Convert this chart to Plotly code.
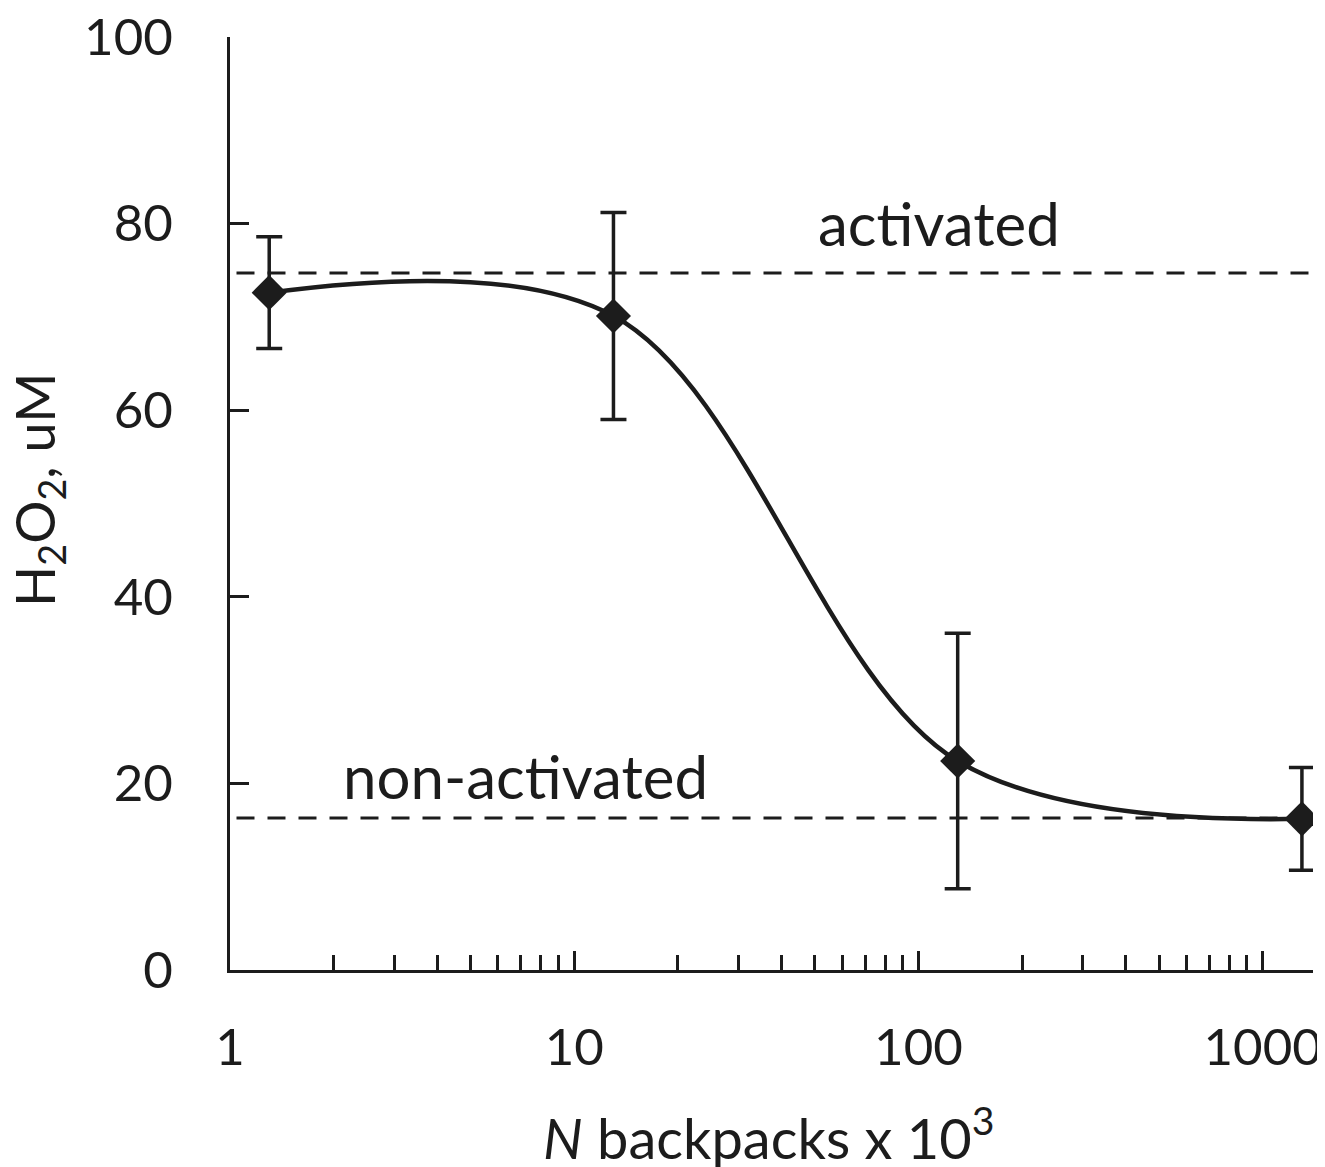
import math
import plotly.graph_objects as go

# data
n_backpacks = [1.3, 13, 130, 1300]
h2o2 = [72.6, 70.1, 22.4, 16.2]
h2o2_err = [6.0, 11.1, 13.7, 5.5]
activated_level = [74.7]
nonactivated_level = [16.3]
x_ticks = [1, 10, 100, 1000]
x_tick_labels = ["1", "10", "100", "1000"]
y_ticks = [0, 20, 40, 60, 80, 100]
minor_x_ticks = [m * 10 ** d for d in range(0, 4) for m in range(2, 10) if m * 10 ** d < 1400]

INK = "#1c1c1c"
FONT = "Lato"
FS = 51

OFF = 8  # page body margin offset
W, H = 1325, 1167
L, T = 230 - OFF, 37 - OFF
R = W - (1313 - OFF)
B = H - (970 - OFF)
pw, ph = W - L - R, H - T - B


def px_to_paper(xp, yp):
    return (xp - OFF - L) / pw, 1 - (yp - OFF - T) / ph


fig = go.Figure()

fig.add_trace(go.Scatter(
    x=n_backpacks, y=h2o2,
    mode="lines+markers",
    line=dict(shape="spline", smoothing=1.0, color=INK, width=4.5),
    marker=dict(symbol="diamond", size=27, color=INK),
    error_y=dict(type="data", array=h2o2_err, visible=True, color=INK,
                 thickness=3.5, width=13),
    showlegend=False,
))

for lvl in (activated_level[0], nonactivated_level[0]):
    fig.add_shape(type="line", xref="paper", yref="y", x0=0.006, x1=1.0,
                  y0=lvl, y1=lvl, line=dict(color=INK, width=3, dash="18px,13px"),
                  layer="below")

fig.add_annotation(x=math.log10(115), y=activated_level[0], xref="x", yref="y",
                   text="activated", showarrow=False, yshift=50,
                   font=dict(family=FONT, size=60, color=INK))
fig.add_annotation(x=math.log10(2.1), y=nonactivated_level[0], xref="x", yref="y",
                   text="non-activated", showarrow=False, xanchor="left", yshift=42,
                   font=dict(family=FONT, size=60, color=INK))

# axis titles
xt = px_to_paper(768, 1133)
fig.add_annotation(x=xt[0], y=xt[1], xref="paper", yref="paper",
                   xanchor="center", yanchor="middle",
                   text="<i>N</i> backpacks x 10<sup>3</sup>", showarrow=False,
                   font=dict(family=FONT, size=56, color=INK))
yt = px_to_paper(38, 490)
fig.add_annotation(x=yt[0], y=yt[1], xref="paper", yref="paper",
                   xanchor="center", yanchor="middle",
                   text="H<sub>2</sub>O<sub>2</sub>, uM", showarrow=False, textangle=-90,
                   font=dict(family=FONT, size=54, color=INK))

fig.update_layout(
    width=W, height=H,
    margin=dict(l=L, r=R, t=T, b=B, pad=0, autoexpand=False),
    paper_bgcolor="white", plot_bgcolor="white",
    font=dict(family=FONT, size=FS, color=INK),
)
fig.update_xaxes(
    type="log", range=[0, math.log10(1400)], automargin=False,
    tickvals=x_ticks, ticktext=x_tick_labels, ticklabeloverflow="allow",
    ticks="inside", ticklen=19, tickwidth=3, tickcolor=INK,
    showline=True, linewidth=3, linecolor=INK,
    showgrid=False, zeroline=False,
    ticklabelstandoff=31,
    tickfont=dict(family=FONT, size=FS, color=INK),
    minor=dict(tickvals=minor_x_ticks, ticks="inside", ticklen=15, tickwidth=3,
               tickcolor=INK, showgrid=False),
)
fig.update_yaxes(
    range=[0, 100], tickvals=y_ticks, automargin=False, ticklabeloverflow="allow",
    ticks="inside", ticklen=19, tickwidth=3, tickcolor=INK,
    showline=True, linewidth=3, linecolor=INK,
    showgrid=False, zeroline=False,
    ticklabelstandoff=44,
    tickfont=dict(family=FONT, size=FS, color=INK),
)

fig.write_html("out.html")
